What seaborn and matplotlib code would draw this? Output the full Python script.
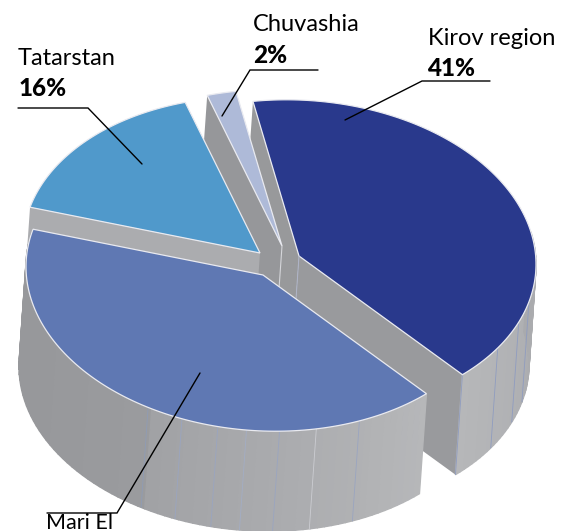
import numpy as np
import matplotlib
matplotlib.use("Agg")
import matplotlib.pyplot as plt
import seaborn as sns

# ---- data ----
regions = ["Kirov region", "Mari El", "Tatarstan", "Chuvashia"]
shares = [41, 41, 16, 2]
share_labels = ["41%", None, "16%", "2%"]

# ---- styling / layout ----
sns.set_theme(style="white")
plt.rcParams['font.family'] = ['Lato', 'DejaVu Sans']
top_colors = sns.color_palette(["#29398C", "#5F78B3", "#5099CB", "#AEBAD8"])
apex = {"Kirov region": (299, 256), "Mari El": (263, 275),
        "Tatarstan": (260, 253), "Chuvashia": (282, 246)}
A, B, K = 237.0, 156.0, 0.035
DX, DY = -7.0, 100.0
START = 101.2

fig = plt.figure(figsize=(5.63, 5.31), dpi=100)
ax = fig.add_axes([0, 0, 1, 1])
ax.set_xlim(0, 563)
ax.set_ylim(531, 0)
ax.axis("off")

spans = np.array(shares) / sum(shares) * 360
ends = START - np.cumsum(spans)
starts = ends + spans
angles = {r: (s, e) for r, s, e in zip(regions, starts, ends)}


def rim(c, deg):
    t = np.radians(deg)
    return (c[0] + A * np.cos(t), c[1] - B * np.sin(t) + K * A * np.cos(t))


def top(region, color, z):
    c = apex[region]
    s, e = angles[region]
    ts = np.linspace(s, e, 120)
    xs, ys = rim(c, ts)
    ax.fill(np.r_[c[0], xs], np.r_[c[1], ys], facecolor=color,
            edgecolor="#E9EAF0", lw=0.9, joinstyle="miter", zorder=z)


def radial(region, deg, color, z):
    c = apex[region]
    ex, ey = rim(c, deg)
    ax.fill([c[0], ex, ex + DX, c[0] + DX], [c[1], ey, ey + DY, c[1] + DY],
            facecolor=color, edgecolor="none", zorder=z)


def outer(region, a0, a1, stops, z, n=40):
    c = apex[region]
    ts = np.linspace(a0, a1, n + 1)
    grad = sns.blend_palette(stops, n)
    for i in range(n):
        x0, y0 = rim(c, ts[i])
        x1, y1 = rim(c, ts[i + 1])
        ax.fill([x0, x1, x1 + DX, x0 + DX], [y0, y1, y1 + DY, y0 + DY],
                facecolor=grad[i], edgecolor=grad[i], lw=1.0, zorder=z)


def facet(region, deg, color, z):
    c = apex[region]
    x, y = rim(c, deg)
    ax.plot([x, x + DX], [y, y + DY], color=color, lw=0.6, zorder=z)


# Kirov region
kirov_s, kirov_e = angles["Kirov region"]
radial("Kirov region", kirov_s, "#98999B", 1)
radial("Kirov region", kirov_e, "#999A9D", 1)
outer("Kirov region", kirov_e, 12, ["#B6B7B9", "#AFB0B3", "#A9AAAD"], 1.5)
for d in [kirov_e, -33, -22, -14]:
    facet("Kirov region", d, "#8F9CC0", 1.6)
top("Kirov region", top_colors[0], 2)
ax.plot([299, 299 + DX], [256, 256 + DY], color="#AEB4C8", lw=0.7, zorder=2.5)

# Chuvashia
chu_s, chu_e = angles["Chuvashia"]
radial("Chuvashia", chu_s, "#96979A", 3)
top("Chuvashia", top_colors[3], 4)
ax.plot([282, 282 + DX], [246, 246 + DY], color="#D5D6DA", lw=0.8, zorder=4)

# Tatarstan
tat_s, tat_e = angles["Tatarstan"]
radial("Tatarstan", tat_s, "#ABACAF", 5)
top("Tatarstan", top_colors[2], 6)

# Mari El
mari_s, mari_e = angles["Mari El"]
outer("Mari El", mari_e, -118, ["#97989B", "#97989B", "#9A9B9E"], 7)
outer("Mari El", -118, mari_s, ["#A1A2A5", "#ABACAF", "#B6B7B9"], 7.1)
for d, col in [(-66, "#9AA5C0"), (-77, "#CCCDD2"), (-86, "#9AA5C0"), (-94, "#A3ADC4"),
               (-101, "#9AA5C0"), (-110, "#9AA5C0"), (-119, "#8F9BB5")]:
    facet("Mari El", d, col, 7.5)
top("Mari El", top_colors[1], 8)

# ---- callouts ----
leader = dict(color="black", lw=1.0, zorder=10, solid_joinstyle="miter")
ax.plot([490, 422, 345], [81, 81, 120], **leader)
ax.plot([318, 250, 222], [70, 70, 116], **leader)
ax.plot([18, 88, 142], [108, 108, 164], **leader)
ax.plot([47, 117, 200], [513, 513, 373], **leader)

name_pos = {"Kirov region": (428, 45), "Chuvashia": (253, 31),
            "Tatarstan": (18, 65), "Mari El": (46, 529)}
name_size = {"Mari El": 15.5}
pct_pos = {"Kirov region": (427, 76), "Chuvashia": (253, 63), "Tatarstan": (19, 96)}
for region, label in zip(regions, share_labels):
    x, y = name_pos[region]
    ax.text(x, y, region, fontsize=name_size.get(region, 17), color="black",
            va="baseline", ha="left", zorder=11)
    if label:
        x, y = pct_pos[region]
        ax.text(x, y, label, fontsize=17.5, fontweight="black", color="black",
                va="baseline", ha="left", zorder=11)

fig.savefig("out.png", dpi=100, facecolor="white")
